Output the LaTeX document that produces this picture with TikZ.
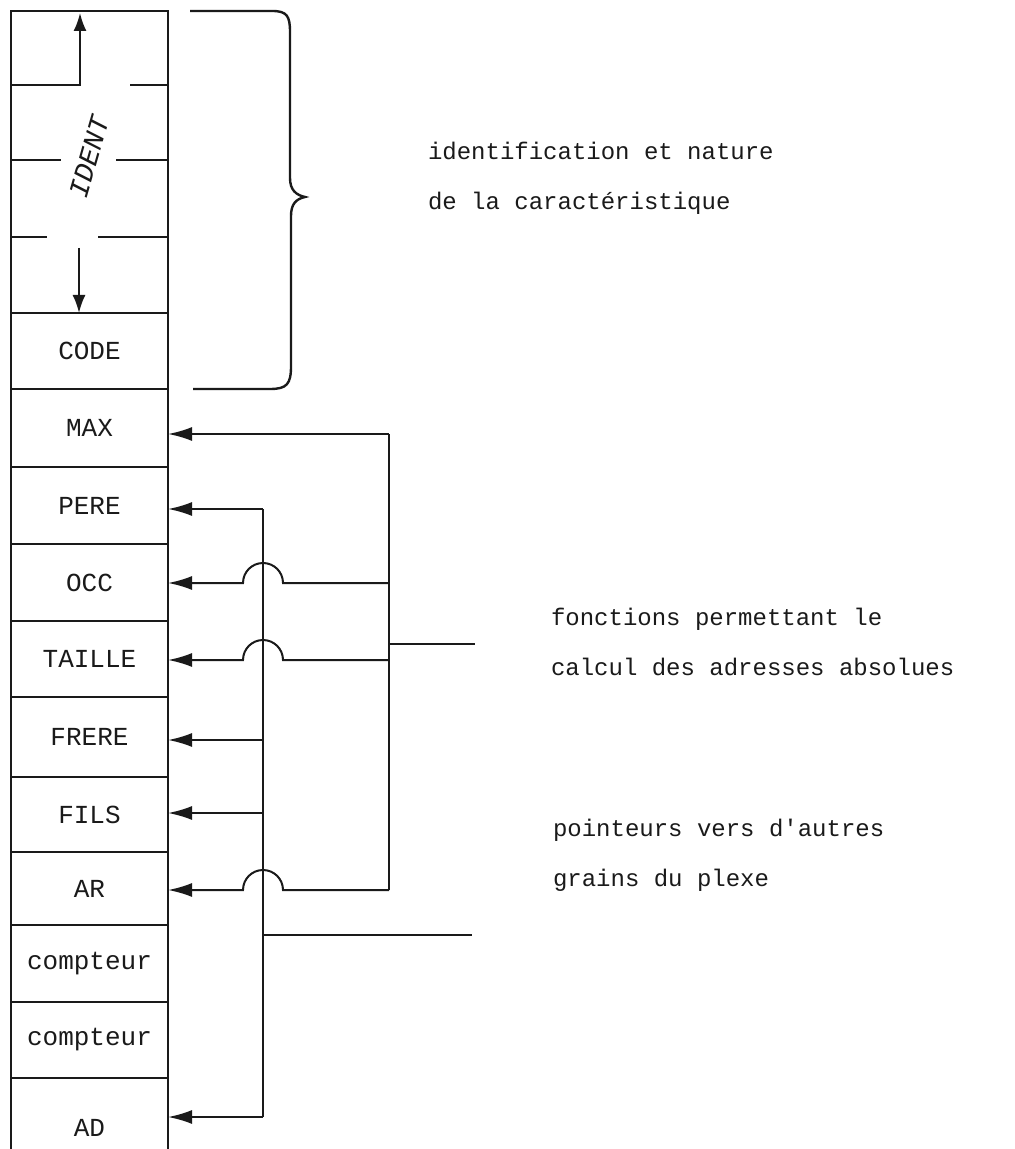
\documentclass[tikz,border=0pt]{standalone}
\usepackage{fontspec}
\setmonofont{Liberation Mono}
\usetikzlibrary{calc,arrows.meta}
\definecolor{ink}{HTML}{1A1A1A}

\begin{document}
\begin{tikzpicture}[
    x=0.5pt, y=-0.5pt,
    line width=1pt,
    every node/.style={font=\ttfamily, text=ink},
    cell/.style={draw=ink, line width=1.1pt, anchor=north west, inner sep=0pt,
      outer sep=0pt, minimum width=78.5pt, font=\ttfamily\fontsize{13}{15}\selectfont},
    ptr/.style={draw=ink, line width=1pt, -{Latex[length=12pt,width=7pt]}},
    idarrow/.style={draw=ink, line width=1pt, -{Latex[length=9pt,width=6.5pt]}},
    wire/.style={draw=ink, line width=1pt},
    note/.style={anchor=west, align=left, inner sep=0pt,
      font=\ttfamily\fontsize{12}{25}\selectfont},
  ]
  \useasboundingbox[fill=white] (0,0) rectangle (1014,1149);

  % ---------- Grain column (cells, top to bottom) -------------------------
  % IDENT block: 11 -> 313, split by three broken separators
  \draw[draw=ink, line width=1.1pt] (11,313) -- (11,11) -- (168,11) -- (168,313);
  \node[font=\ttfamily\itshape\fontsize{14}{16}\selectfont, rotate=74]
    (identlbl) at (89,157) {IDENT};
  \draw[idarrow] (11,85) -| (80,13);
  \draw[draw=ink, line width=1.1pt] (130,85) -- (168,85);
  \draw[draw=ink, line width=1.1pt] (11,160) -- (61,160);
  \draw[draw=ink, line width=1.1pt] (116,160) -- (168,160);
  \draw[draw=ink, line width=1.1pt] (11,237) -- (47,237);
  \draw[draw=ink, line width=1.1pt] (98,237) -- (168,237);
  \draw[idarrow] (79,248) -- (79,313);

  % one cell per field; heights in px of the scan
  \node[cell, minimum height=38pt]   (cellcode)   at (11,313)  {CODE};
  \node[cell, minimum height=39pt]   (cellmax)    at (11,389)  {MAX};
  \node[cell, minimum height=38.5pt] (cellpere)   at (11,467)  {PERE};
  \node[cell, minimum height=38.5pt] (cellocc)    at (11,544)  {OCC};
  \node[cell, minimum height=38pt]   (celltaille) at (11,621)  {TAILLE};
  \node[cell, minimum height=40pt]   (cellfrere)  at (11,697)  {FRERE};
  \node[cell, minimum height=37.5pt] (cellfils)   at (11,777)  {FILS};
  \node[cell, minimum height=36.5pt] (cellar)     at (11,852)  {AR};
  \node[cell, minimum height=38.5pt] (cellcpta)   at (11,925)  {compteur};
  \node[cell, minimum height=38pt]   (cellcptb)   at (11,1002) {compteur};
  % AD runs off the bottom of the page: only three sides drawn
  \node[cell, draw=none, minimum height=50pt] (cellad) at (11,1078) {AD};
  \coordinate (colbot) at (0,1149);
  \draw[draw=ink, line width=1.1pt] (cellad.north west |- colbot)
    -- (cellad.north west) -- (cellad.north east) -- (cellad.north east |- colbot);

  % ---------- Brace over IDENT + CODE -------------------------------------
  \draw[draw=ink, line width=1.2pt] (190,11) -- (272,11)
    .. controls (287,11) and (290,16) .. (290,32) -- (290,178)
    .. controls (290,190) and (296,195) .. (305,197)
    .. controls (296,199) and (291,204) .. (291,216) -- (291,366)
    .. controls (291,384) and (287,389) .. (270,389) -- (193,389);

  % ---------- Address functions (right bus, x = 389) ----------------------
  \coordinate (rMAX)    at (389,434);
  \coordinate (rOCC)    at (389,583);
  \coordinate (rTAILLE) at (389,660);
  \coordinate (rAR)     at (389,890);
  \coordinate (rtapend) at (475,644);

  % ---------- Pointers to other grains (left bus, x = 263) ----------------
  \coordinate (lPERE)   at (263,509);
  \coordinate (lFRERE)  at (263,740);
  \coordinate (lFILS)   at (263,813);
  \coordinate (lAD)     at (263,1117);
  \coordinate (ltapend) at (472,935);

  \draw[wire] (lPERE) -- (lAD);
  \draw[wire] (ltapend -| lPERE) -- (ltapend);
  \draw[ptr] (lPERE) -- (lPERE -| cellpere.east);
  \draw[ptr] (lFRERE) -- (lFRERE -| cellfrere.east);
  \draw[ptr] (lFILS) -- (lFILS -| cellfils.east);
  \draw[ptr] (lAD) -- (lAD -| cellad.east);

  \draw[wire] (rMAX) -- (rAR);
  \draw[wire] (rtapend -| rMAX) -- (rtapend);
  \draw[ptr] (rMAX) -- (rMAX -| cellmax.east);
  % the three crossing branches hop over the left bus
  \draw[ptr] (rOCC) -- ($(rOCC -| lPERE)+(20,0)$)
    arc[start angle=0, end angle=-180, radius=20] -- (rOCC -| cellocc.east);
  \draw[ptr] (rTAILLE) -- ($(rTAILLE -| lPERE)+(20,0)$)
    arc[start angle=0, end angle=-180, radius=20] -- (rTAILLE -| celltaille.east);
  \draw[ptr] (rAR) -- ($(rAR -| lPERE)+(20,0)$)
    arc[start angle=0, end angle=-180, radius=20] -- (rAR -| cellar.east);

  % ---------- Annotations -------------------------------------------------
  \node[note] (identtxt) at (427,178) {identification et nature\\de la caractéristique};
  \node[note] (fonctxt)  at (550,642) {fonctions permettant le\\calcul des adresses absolues};
  \node[note] (pointxt)  at (552,855) {pointeurs vers d'autres\\grains du plexe};

\end{tikzpicture}
\end{document}
